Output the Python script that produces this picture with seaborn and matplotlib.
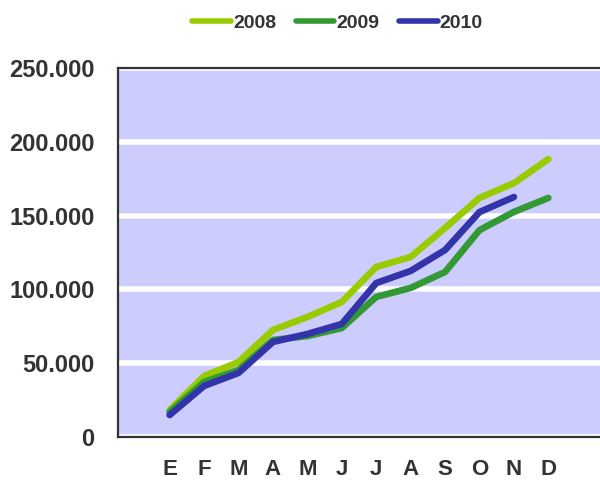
import matplotlib
matplotlib.use("Agg")
import matplotlib.pyplot as plt
import seaborn as sns
import pandas as pd

months = ["E", "F", "M", "A", "M", "J", "J", "A", "S", "O", "N", "D"]
series_2008 = [18300, 41300, 50800, 72500, 81300, 91500, 115200, 122000, 141600, 162000, 172000, 188300]
series_2009 = [17000, 37300, 45400, 65700, 68400, 73800, 94900, 101000, 111800, 140200, 152500, 162000]
series_2010 = [14900, 34600, 43400, 64400, 69800, 76600, 104300, 112500, 126700, 152400, 162600]
years = ["2008", "2009", "2010"]
yticks = [0, 50000, 100000, 150000, 200000, 250000]
ytick_labels = ["0", "50.000", "100.000", "150.000", "200.000", "250.000"]

rows = []
for year, vals in zip(years, [series_2008, series_2009, series_2010]):
    for i, v in enumerate(vals):
        rows.append({"idx": i, "value": v, "year": year})
df = pd.DataFrame(rows)

palette = {"2008": "#99CC00", "2009": "#339933", "2010": "#3333AA"}

sns.set_theme(style="white")
plt.rcParams["font.family"] = ["Liberation Sans", "DejaVu Sans"]

fig = plt.figure(figsize=(6.0, 4.84), dpi=100)
ax = fig.add_axes([118 / 600, 47 / 484, 482 / 600, 369 / 484])
ax.set_facecolor("#CCCCFF")

sns.lineplot(data=df, x="idx", y="value", hue="year", palette=palette,
             linewidth=4.8, sort=False, ax=ax, legend=True)
for line in ax.lines:
    line.set_solid_capstyle("round")
    line.set_solid_joinstyle("round")

ax.set_xlim(-1.5, 12.5)
ax.set_ylim(0, 250000)
ax.set_xticks(range(len(months)))
ax.set_xticklabels(months)
ax.set_yticks(yticks)
ax.set_yticklabels(ytick_labels)
ax.set_xlabel("")
ax.set_ylabel("")

ax.grid(axis="y", color="white", linewidth=4.0)
ax.set_axisbelow(True)

for side in ["left", "top", "bottom"]:
    ax.spines[side].set_visible(True)
    ax.spines[side].set_color("#333333")
    ax.spines[side].set_linewidth(1.6)
ax.spines["right"].set_visible(False)

ax.tick_params(axis="y", length=0, pad=17, labelsize=17, labelcolor="#333333")
ax.tick_params(axis="x", length=0, pad=16, labelsize=16, labelcolor="#333333")
for lbl in ax.get_xticklabels() + ax.get_yticklabels():
    lbl.set_fontweight("bold")

sns.move_legend(ax, "center", bbox_to_anchor=(0.5625, 0.952),
                bbox_transform=fig.transFigure, ncol=3, frameon=False,
                title=None, fontsize=14, handlelength=2.0, handletextpad=0.1,
                columnspacing=1.0)
leg = ax.get_legend()
for t in leg.get_texts():
    t.set_fontweight("bold")
    t.set_color("#333333")
for h in leg.legend_handles:
    h.set_linewidth(4.0)
    h.set_solid_capstyle("round")

fig.savefig("out.png", dpi=100)
